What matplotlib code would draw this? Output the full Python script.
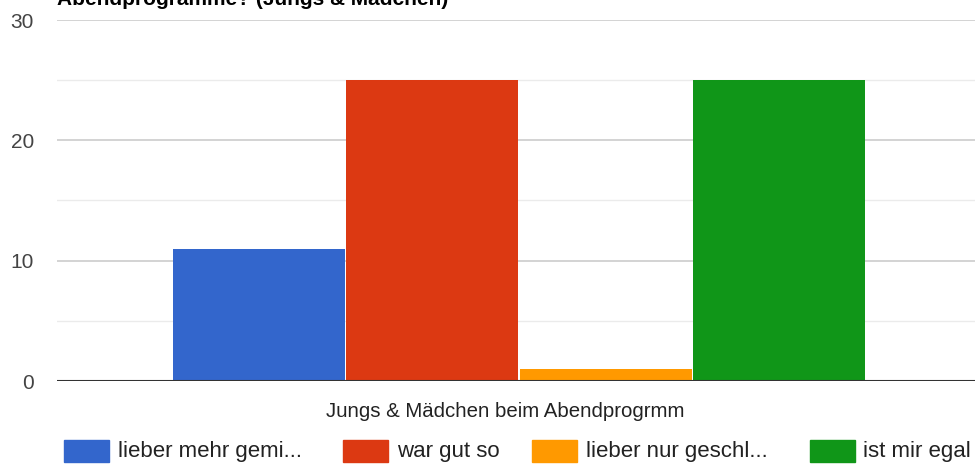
import matplotlib
matplotlib.use("Agg")
import matplotlib.pyplot as plt

plt.rcParams['font.family'] = ['Liberation Sans', 'DejaVu Sans']

title = "Abendprogramme? (Jungs & Mädchen)"
group_label = "Jungs & Mädchen beim Abendprogrmm"
series_names = ["lieber mehr gemi...", "war gut so", "lieber nur geschl...", "ist mir egal"]
series_values = [11, 25, 1, 25]
series_colors = ["#3366cc", "#dc3912", "#ff9900", "#109618"]
y_ticks = [0, 10, 20, 30]
y_minor = [5, 15, 25]

fig = plt.figure(figsize=(9.75, 4.65), dpi=100)
W, H = 975, 465
ax = fig.add_axes([57 / W, 1 - 381 / H, 1 - 57 / W, (381 - 20) / H])

bar_w = 172
start = 173
for i, (v, c) in enumerate(zip(series_values, series_colors)):
    ax.bar(start + i * (bar_w + 1.3), v, width=bar_w, align='edge', color=c,
           edgecolor='none', zorder=3)

ax.set_xlim(57, 975)
ax.set_ylim(0, 30)
ax.set_yticks(y_ticks)
ax.set_yticklabels([str(t) for t in y_ticks], fontsize=15, color='#444444')
ax.set_xticks([])
for t in y_ticks[1:]:
    ax.axhline(t, color='#cccccc', lw=1.2, zorder=1)
for t in y_minor:
    ax.axhline(t, color='#ebebeb', lw=1.0, zorder=1)
ax.axhline(0, color='#333333', lw=1.5, zorder=4)
ax.tick_params(axis='y', length=0, pad=16.5)
for s in ax.spines.values():
    s.set_visible(False)

fig.text(505 / W, 1 - 411 / H, group_label, ha='center', va='center',
         fontsize=14.7, color='#222222')

fig.text(57 / W, 1 - 5 / H, title, ha='left', va='baseline',
         fontsize=15, fontweight='bold', color='#000000')

# legend row
patch_x = [64, 343, 532, 810]
text_x = [118, 397, 586, 863]
for px, tx, name, c in zip(patch_x, text_x, series_names, series_colors):
    fig.patches.append(plt.Rectangle((px / W, 1 - 462 / H), 45 / W, 22 / H,
                                     transform=fig.transFigure, color=c))
    fig.text(tx / W, 1 - 451 / H, name, ha='left', va='center',
             fontsize=16, color='#222222')

fig.savefig("out.png", dpi=100)
